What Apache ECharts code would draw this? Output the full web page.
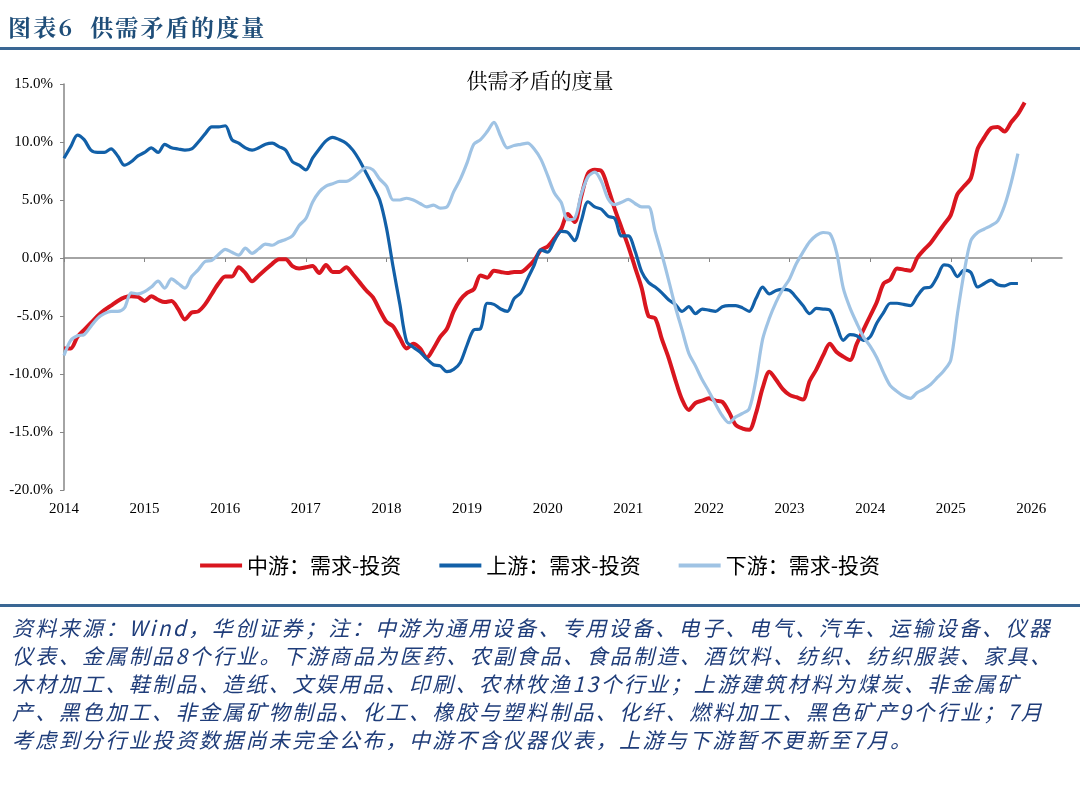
<!DOCTYPE html>
<html>
<head>
<meta charset="utf-8">
<script src="https://cdn.jsdelivr.net/npm/echarts@6/dist/echarts.min.js"></script>
<style>
html,body{margin:0;padding:0;background:#fff;}
#wrap{position:relative;width:1080px;height:792px;overflow:hidden;}
#chart{position:absolute;left:0;top:0;width:1080px;height:792px;}
.hdr{position:absolute;left:8px;top:10px;font-family:"Noto Serif CJK SC","Noto Sans CJK SC",serif;font-weight:bold;font-size:23px;color:#1f4e79;letter-spacing:2.2px;white-space:pre;}
.rule{position:absolute;left:0;width:1080px;height:3px;background:#3a6794;}
.note{position:absolute;left:12px;font-family:"Noto Sans CJK SC",sans-serif;font-style:italic;font-size:21px;color:#1f3d7a;letter-spacing:2.35px;white-space:pre;line-height:28px;}
</style>
</head>
<body>
<div id="wrap">
<div id="chart"></div>
<div class="hdr">图表6  供需矛盾的度量</div>
<div class="rule" style="top:47px"></div>
<div class="rule" style="top:604px"></div>
<div id="notes"></div>
</div>
<script>
// ---- data (monthly, starting Jan 2014) ----
var startYear = 2014;
var yearTicks = [2014,2015,2016,2017,2018,2019,2020,2021,2022,2023,2024,2025,2026];
var yTicks = [-20,-15,-10,-5,0,5,10,15];
var seriesNames = ['中游：需求-投资','上游：需求-投资','下游：需求-投资'];

var midstream = [
-7.8,-7.8,-6.8,-6.2,-5.6,-5.0,-4.5,-4.1,-3.7,-3.4,-3.3,-3.35,
-3.7,-3.3,-3.6,-3.8,-3.7,-4.4,-5.3,-4.7,-4.6,-4.0,-3.1,-2.2,
-1.6,-1.6,-0.8,-1.3,-2.0,-1.5,-1.0,-0.5,-0.1,-0.1,-0.7,-0.9,
-0.8,-0.7,-1.3,-0.6,-1.2,-1.2,-0.8,-1.4,-2.1,-2.8,-3.4,-4.5,
-5.5,-5.9,-6.9,-7.8,-7.4,-7.8,-8.6,-7.8,-6.8,-6.1,-4.6,-3.6,
-3.0,-2.7,-1.5,-1.7,-1.1,-1.2,-1.3,-1.2,-1.2,-0.8,-0.2,0.7,
1.0,1.7,2.5,3.8,3.1,5.3,7.3,7.6,7.5,6.0,4.2,2.6,
1.0,-0.8,-2.6,-5.0,-5.2,-7.0,-8.6,-10.5,-12.2,-13.1,-12.5,-12.3,
-12.1,-12.3,-12.4,-13.3,-14.4,-14.7,-14.8,-13.4,-11.2,-9.8,-10.5,-11.3,
-11.8,-12.0,-12.2,-10.6,-9.6,-8.4,-7.4,-8.1,-8.5,-8.8,-7.4,-6.2,
-5.0,-3.8,-2.2,-1.85,-0.9,-1.0,-1.1,0.0,0.7,1.3,2.1,2.9,
3.7,5.5,6.2,6.9,9.4,10.4,11.2,11.3,10.9,11.7,12.4,13.4
];

var upstream = [
8.6,9.6,10.6,10.2,9.3,9.1,9.1,9.4,8.8,8.0,8.3,8.8,
9.1,9.5,9.1,9.8,9.5,9.4,9.3,9.4,10.0,10.7,11.3,11.3,
11.4,10.2,9.9,9.5,9.3,9.5,9.8,9.9,9.6,9.3,8.3,8.0,
7.6,8.6,9.4,10.1,10.4,10.2,9.9,9.3,8.4,7.3,6.2,5.0,
2.6,-0.8,-4.0,-7.2,-7.7,-8.1,-8.7,-9.2,-9.3,-9.8,-9.6,-9.0,
-7.5,-6.2,-6.1,-3.9,-4.0,-4.4,-4.6,-3.5,-3.0,-1.8,-0.6,0.7,
0.5,1.5,2.3,2.2,1.5,3.2,4.85,4.4,4.2,3.6,3.4,1.9,
1.9,0.6,-1.2,-2.1,-2.5,-3.0,-3.6,-4.0,-4.6,-4.2,-4.8,-4.4,
-4.5,-4.6,-4.2,-4.1,-4.1,-4.3,-4.6,-3.5,-2.5,-3.1,-2.8,-2.7,
-2.8,-3.4,-4.1,-4.8,-4.35,-4.4,-4.5,-5.8,-7.1,-6.6,-6.7,-7.1,
-6.8,-5.6,-4.7,-3.9,-3.9,-4.0,-4.1,-3.3,-2.6,-2.5,-1.6,-0.6,
-0.75,-1.6,-1.05,-1.25,-2.5,-2.2,-1.9,-2.3,-2.4,-2.2,-2.2
];

var downstream = [
-8.4,-7.1,-6.7,-6.6,-5.9,-5.2,-4.8,-4.6,-4.6,-4.3,-3.0,-3.1,
-2.9,-2.5,-2.0,-2.6,-1.8,-2.2,-2.6,-1.6,-1.0,-0.3,-0.2,0.3,
0.75,0.5,0.25,0.85,0.4,0.8,1.2,1.1,1.4,1.6,1.9,2.8,
3.4,4.8,5.7,6.2,6.4,6.6,6.6,6.9,7.4,7.8,7.6,6.8,
6.2,5.0,5.0,5.15,5.0,4.7,4.4,4.55,4.3,4.4,5.7,6.8,
8.2,9.8,10.2,10.9,11.7,10.5,9.5,9.7,9.8,9.9,9.4,8.5,
7.1,5.6,4.8,3.3,3.4,5.5,7.0,7.4,6.6,5.1,4.6,4.8,
5.05,4.7,4.4,4.4,2.3,0.3,-1.9,-4.2,-6.2,-8.2,-9.3,-10.5,
-11.5,-12.6,-13.6,-14.2,-13.7,-13.4,-13.0,-10.5,-7.0,-5.2,-3.8,-2.7,
-1.8,-0.5,0.5,1.4,1.95,2.2,2.1,0.5,-2.6,-4.3,-5.6,-6.8,
-7.6,-8.6,-9.9,-11.0,-11.5,-11.9,-12.1,-11.6,-11.3,-10.9,-10.3,-9.7,
-8.8,-4.8,-1.2,1.5,2.2,2.5,2.8,3.2,4.5,6.5,9.0
];

var noteLines = [
'资料来源：Wind，华创证券；注：中游为通用设备、专用设备、电子、电气、汽车、运输设备、仪器',
'仪表、金属制品8个行业。下游商品为医药、农副食品、食品制造、酒饮料、纺织、纺织服装、家具、',
'木材加工、鞋制品、造纸、文娱用品、印刷、农林牧渔13个行业；上游建筑材料为煤炭、非金属矿',
'产、黑色加工、非金属矿物制品、化工、橡胶与塑料制品、化纤、燃料加工、黑色矿产9个行业；7月',
'考虑到分行业投资数据尚未完全公布，中游不含仪器仪表，上游与下游暂不更新至7月。'
];

// ---- build ----
function toPairs(arr){
  return arr.map(function(v,i){ return [startYear + i/12, v]; });
}
var notes = document.getElementById('notes');
noteLines.forEach(function(t,i){
  var d = document.createElement('div');
  d.className = 'note';
  d.style.top = (613 + i*28) + 'px';
  d.textContent = t;
  notes.appendChild(d);
});

var chart = echarts.init(document.getElementById('chart'), null, {renderer:'canvas'});
var axisColor = '#868686';
var serif = '"Liberation Serif","Times New Roman",serif';
var xMin = 2014, xMax = 2026.38;
chart.setOption({
  animation:false,
  backgroundColor:'#fff',
  title:{
    text:'供需矛盾的度量', left:'center', top:65,
    textStyle:{fontFamily:'"Noto Serif CJK SC","Noto Sans CJK SC",serif', fontSize:21, fontWeight:'normal', color:'#000'}
  },
  legend:{
    top:550, left:'center', itemWidth:42, itemHeight:4, itemGap:38, icon:'rect',
    textStyle:{fontFamily:'"Noto Sans CJK SC",sans-serif', fontSize:21, color:'#000'},
    data:seriesNames
  },
  grid:{left:64, right:18, top:84, height:406, containLabel:false},
  xAxis:[{
    type:'value', min:xMin, max:xMax, interval:1,
    axisLine:{show:true, onZero:true, lineStyle:{color:axisColor, width:1.5}},
    axisTick:{show:true, inside:false, length:4, lineStyle:{color:axisColor}, customValues:yearTicks},
    axisLabel:{show:false},
    splitLine:{show:false}
  },{
    type:'value', min:xMin, max:xMax, interval:1, position:'bottom',
    axisLine:{show:false, onZero:false},
    axisTick:{show:false},
    axisLabel:{show:true, margin:12, fontFamily:serif, fontSize:15, color:'#000', customValues:yearTicks,
      formatter:function(v){ return String(Math.round(v)); }},
    splitLine:{show:false}
  }],
  yAxis:{
    type:'value', min:-20, max:15, interval:5,
    axisLine:{show:true, lineStyle:{color:axisColor, width:1.5}},
    axisTick:{show:true, inside:false, length:4, lineStyle:{color:axisColor}},
    axisLabel:{margin:11, fontFamily:serif, fontSize:15, color:'#000',
      formatter:function(v){ return v.toFixed(1) + '%'; }},
    splitLine:{show:false}
  },
  series:[
    {name:seriesNames[0], type:'line', data:toPairs(midstream), showSymbol:false, smooth:0.3,
     color:'#d9161f', lineStyle:{color:'#d9161f', width:4}},
    {name:seriesNames[1], type:'line', data:toPairs(upstream), showSymbol:false, smooth:0.3,
     color:'#1260a8', lineStyle:{color:'#1260a8', width:3.2}},
    {name:seriesNames[2], type:'line', data:toPairs(downstream), showSymbol:false, smooth:0.3,
     color:'#9fc3e4', lineStyle:{color:'#9fc3e4', width:3.2}}
  ]
});
</script>
</body>
</html>
